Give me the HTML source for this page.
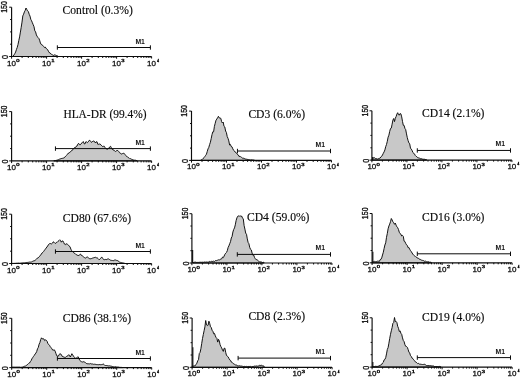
<!DOCTYPE html>
<html><head><meta charset="utf-8"><title>Figure</title>
<style>
html,body{margin:0;padding:0;background:#fff;}
body{width:520px;height:379px;overflow:hidden;}
svg{display:block;}
.t{font-family:"Liberation Serif",serif;font-size:11.6px;fill:#0a0a0a;stroke:#0a0a0a;stroke-width:0.15;}
.a{font-family:"Liberation Sans",sans-serif;font-size:8px;fill:#111;stroke:#111;stroke-width:0.3;}
.y{font-family:"Liberation Sans",sans-serif;font-size:8.4px;fill:#111;stroke:#111;stroke-width:0.35;text-anchor:middle;}
.s4{font-family:"Liberation Sans",sans-serif;font-size:3px;fill:#111;stroke:#111;stroke-width:0.5;}
.s{font-family:"Liberation Sans",sans-serif;font-size:4.2px;fill:#111;stroke:#111;stroke-width:0.35;}
.m{font-family:"Liberation Sans",sans-serif;font-size:6.8px;font-weight:bold;fill:#111;}
.ax{stroke:#0c0c0c;stroke-width:1.15;fill:none;}
.tk{stroke:#0a0a0a;stroke-width:1;fill:none;}
.h{fill:#c8c8c8;stroke:#0a0a0a;stroke-width:0.95;stroke-linejoin:round;}
.sp{stroke:#0a0a0a;stroke-width:1.1;fill:none;}
.mk{stroke:#0a0a0a;stroke-width:1.0;fill:none;}
</style></head><body>
<svg width="520" height="379" viewBox="0 0 520 379">
<rect width="520" height="379" fill="#fff"/>
<g>

<g>
<path class="h" d="M13.2,56.0 L14.0,54.9 L14.8,53.6 L15.6,52.1 L16.4,49.6 L17.2,47.5 L18.0,44.5 L18.8,40.5 L19.6,36.9 L20.4,32.1 L21.2,27.3 L22.0,22.1 L22.8,15.9 L23.6,14.2 L24.4,11.9 L25.2,10.4 L26.0,8.0 L26.8,9.5 L27.6,10.9 L28.4,11.7 L29.2,14.3 L30.0,16.1 L30.8,19.4 L31.6,20.8 L32.4,22.8 L33.2,24.7 L34.0,26.7 L34.8,30.8 L35.6,31.9 L36.4,34.9 L37.2,36.6 L38.0,37.4 L38.8,38.3 L39.6,40.2 L40.4,43.0 L41.2,44.4 L42.0,44.9 L42.8,45.4 L43.6,46.4 L44.4,47.5 L45.2,47.0 L46.0,48.1 L46.8,49.2 L47.6,49.6 L48.4,51.2 L49.2,52.6 L50.0,52.8 L50.8,53.9 L51.6,54.4 L52.4,54.8 L53.2,55.5 L54.0,55.2 L54.8,54.8 L55.6,55.2 L56.4,55.5 L57.2,55.8 L58.0,56.2 L58.0,56.5 L13.2,56.5 Z"/>
<path class="ax" d="M11.6,7.2 V56.5 H151.6"/>
<path class="tk" d="M9.2,56.5 H11.6"/>
<path class="tk" d="M10.1,44.2 H11.6"/>
<path class="tk" d="M10.1,31.9 H11.6"/>
<path class="tk" d="M10.1,19.5 H11.6"/>
<path class="tk" d="M9.2,7.2 H11.6"/>
<path class="tk" d="M11.6,56.5 v2.2 M22.1,56.5 v1.5 M28.3,56.5 v1.5 M32.7,56.5 v1.5 M36.1,56.5 v1.5 M38.8,56.5 v1.5 M41.2,56.5 v1.5 M43.2,56.5 v1.5 M45.0,56.5 v1.5 M46.6,56.5 v2.2 M57.1,56.5 v1.5 M63.3,56.5 v1.5 M67.7,56.5 v1.5 M71.1,56.5 v1.5 M73.8,56.5 v1.5 M76.2,56.5 v1.5 M78.2,56.5 v1.5 M80.0,56.5 v1.5 M81.6,56.5 v2.2 M92.1,56.5 v1.5 M98.3,56.5 v1.5 M102.7,56.5 v1.5 M106.1,56.5 v1.5 M108.8,56.5 v1.5 M111.2,56.5 v1.5 M113.2,56.5 v1.5 M115.0,56.5 v1.5 M116.6,56.5 v2.2 M127.1,56.5 v1.5 M133.3,56.5 v1.5 M137.7,56.5 v1.5 M141.1,56.5 v1.5 M143.8,56.5 v1.5 M146.2,56.5 v1.5 M148.2,56.5 v1.5 M150.0,56.5 v1.5 M151.6,56.5 v2.0"/>
<text class="a" x="7.1" y="65.5">10</text><text class="s" x="16.3" y="62.0" textLength="3.3" lengthAdjust="spacingAndGlyphs">0</text>
<text class="a" x="42.1" y="65.5">10</text><text class="s" x="51.3" y="62.0" textLength="3.3" lengthAdjust="spacingAndGlyphs">1</text>
<text class="a" x="77.1" y="65.5">10</text><text class="s" x="86.3" y="62.0" textLength="3.3" lengthAdjust="spacingAndGlyphs">2</text>
<text class="a" x="112.1" y="65.5">10</text><text class="s" x="121.3" y="62.0" textLength="3.3" lengthAdjust="spacingAndGlyphs">3</text>
<text class="a" x="147.1" y="65.5">10</text><text class="s4" x="157.2" y="61.8">4</text>
<text class="y" transform="translate(8.3,57.1) rotate(-90)" textLength="4.0" lengthAdjust="spacingAndGlyphs">0</text>
<text class="y" transform="translate(7.2,7.0) rotate(-90)" textLength="11.7" lengthAdjust="spacingAndGlyphs">150</text>
<path class="mk" d="M57.35,47.50 H150.40 M57.35,45.30 v4.4 M150.40,45.30 v4.4"/>
<text class="m" x="135.4" y="43.5">M1</text>
<text class="t" x="62.6" y="14.4">Control (0.3%)</text>
</g>
<g>
<path class="h" d="M53.8,160.8 L54.6,160.7 L55.4,160.6 L56.2,160.4 L57.0,160.2 L57.8,159.9 L58.6,159.6 L59.4,159.2 L60.2,158.9 L61.0,158.7 L61.8,158.4 L62.6,158.3 L63.4,158.1 L64.2,157.8 L65.0,156.9 L65.8,156.0 L66.6,155.3 L67.4,154.4 L68.2,153.2 L69.0,153.2 L69.8,152.2 L70.6,151.7 L71.4,150.7 L72.2,150.5 L73.0,149.1 L73.8,148.4 L74.6,147.5 L75.4,147.6 L76.2,146.3 L77.0,146.1 L77.8,144.2 L78.6,143.3 L79.4,144.6 L80.2,144.8 L81.0,144.0 L81.8,142.9 L82.6,142.1 L83.4,141.6 L84.2,143.8 L85.0,143.9 L85.8,141.8 L86.6,141.9 L87.4,142.6 L88.2,141.9 L89.0,140.5 L89.8,140.3 L90.6,141.2 L91.4,142.4 L92.2,141.8 L93.0,141.0 L93.8,141.1 L94.6,141.5 L95.4,143.0 L96.2,141.9 L97.0,141.7 L97.8,144.3 L98.6,144.3 L99.4,144.0 L100.2,144.1 L101.0,145.1 L101.8,145.7 L102.6,146.6 L103.4,146.3 L104.2,146.2 L105.0,147.5 L105.8,148.5 L106.6,148.9 L107.4,149.4 L108.2,148.5 L109.0,148.1 L109.8,146.8 L110.6,146.3 L111.4,147.9 L112.2,149.3 L113.0,149.6 L113.8,150.1 L114.6,151.0 L115.4,151.5 L116.2,150.9 L117.0,150.5 L117.8,150.5 L118.6,151.3 L119.4,152.6 L120.2,153.2 L121.0,153.5 L121.8,154.2 L122.6,153.5 L123.4,153.3 L124.2,153.4 L125.0,154.5 L125.8,155.6 L126.6,156.2 L127.4,157.0 L128.2,157.6 L129.0,157.8 L129.8,158.6 L130.6,158.7 L131.4,159.2 L132.2,159.5 L133.0,159.8 L133.8,160.1 L134.6,160.2 L135.4,160.2 L136.2,160.5 L137.0,160.5 L137.0,160.9 L53.8,160.9 Z"/>
<path class="ax" d="M11.6,111.6 V160.9 H151.6"/>
<path class="tk" d="M9.2,160.9 H11.6"/>
<path class="tk" d="M10.1,148.6 H11.6"/>
<path class="tk" d="M10.1,136.2 H11.6"/>
<path class="tk" d="M10.1,123.9 H11.6"/>
<path class="tk" d="M9.2,111.6 H11.6"/>
<path class="tk" d="M11.6,160.9 v2.2 M22.1,160.9 v1.5 M28.3,160.9 v1.5 M32.7,160.9 v1.5 M36.1,160.9 v1.5 M38.8,160.9 v1.5 M41.2,160.9 v1.5 M43.2,160.9 v1.5 M45.0,160.9 v1.5 M46.6,160.9 v2.2 M57.1,160.9 v1.5 M63.3,160.9 v1.5 M67.7,160.9 v1.5 M71.1,160.9 v1.5 M73.8,160.9 v1.5 M76.2,160.9 v1.5 M78.2,160.9 v1.5 M80.0,160.9 v1.5 M81.6,160.9 v2.2 M92.1,160.9 v1.5 M98.3,160.9 v1.5 M102.7,160.9 v1.5 M106.1,160.9 v1.5 M108.8,160.9 v1.5 M111.2,160.9 v1.5 M113.2,160.9 v1.5 M115.0,160.9 v1.5 M116.6,160.9 v2.2 M127.1,160.9 v1.5 M133.3,160.9 v1.5 M137.7,160.9 v1.5 M141.1,160.9 v1.5 M143.8,160.9 v1.5 M146.2,160.9 v1.5 M148.2,160.9 v1.5 M150.0,160.9 v1.5 M151.6,160.9 v2.0"/>
<text class="a" x="7.1" y="169.9">10</text><text class="s" x="16.3" y="166.4" textLength="3.3" lengthAdjust="spacingAndGlyphs">0</text>
<text class="a" x="42.1" y="169.9">10</text><text class="s" x="51.3" y="166.4" textLength="3.3" lengthAdjust="spacingAndGlyphs">1</text>
<text class="a" x="77.1" y="169.9">10</text><text class="s" x="86.3" y="166.4" textLength="3.3" lengthAdjust="spacingAndGlyphs">2</text>
<text class="a" x="112.1" y="169.9">10</text><text class="s" x="121.3" y="166.4" textLength="3.3" lengthAdjust="spacingAndGlyphs">3</text>
<text class="a" x="147.1" y="169.9">10</text><text class="s4" x="157.2" y="166.2">4</text>
<text class="y" transform="translate(8.3,161.5) rotate(-90)" textLength="4.0" lengthAdjust="spacingAndGlyphs">0</text>
<text class="y" transform="translate(7.2,111.4) rotate(-90)" textLength="11.7" lengthAdjust="spacingAndGlyphs">150</text>
<path class="mk" d="M55.45,148.60 H150.40 M55.45,146.40 v4.4 M150.40,146.40 v4.4"/>
<text class="m" x="135.4" y="144.6">M1</text>
<text class="t" x="63.4" y="118.3" textLength="83.1" lengthAdjust="spacingAndGlyphs">HLA-DR (99.4%)</text>
</g>
<g>
<path class="h" d="M11.7,263.4 L12.5,263.4 L13.3,263.4 L14.1,263.4 L14.9,263.3 L15.7,263.3 L16.5,263.2 L17.3,263.2 L18.1,263.1 L18.9,263.1 L19.7,263.2 L20.5,263.1 L21.3,263.0 L22.1,262.9 L22.9,262.9 L23.7,262.8 L24.5,262.8 L25.3,262.7 L26.1,262.5 L26.9,262.6 L27.7,262.4 L28.5,262.3 L29.3,262.1 L30.1,262.2 L30.9,262.0 L31.7,261.9 L32.5,261.4 L33.3,261.0 L34.1,260.8 L34.9,260.5 L35.7,259.8 L36.5,259.1 L37.3,258.2 L38.1,257.9 L38.9,256.9 L39.7,256.3 L40.5,255.2 L41.3,254.1 L42.1,252.9 L42.9,252.3 L43.7,251.4 L44.5,250.2 L45.3,249.2 L46.1,248.1 L46.9,247.0 L47.7,246.0 L48.5,244.5 L49.3,243.8 L50.1,243.6 L50.9,243.6 L51.7,243.9 L52.5,243.1 L53.3,241.8 L54.1,242.3 L54.9,243.2 L55.7,243.4 L56.5,242.3 L57.3,242.2 L58.1,241.3 L58.9,240.6 L59.7,239.8 L60.5,240.4 L61.3,242.2 L62.1,241.0 L62.9,240.9 L63.7,242.5 L64.5,244.1 L65.3,244.7 L66.1,243.6 L66.9,244.3 L67.7,244.4 L68.5,245.2 L69.3,246.1 L70.1,247.0 L70.9,249.2 L71.7,250.7 L72.5,251.6 L73.3,252.4 L74.1,253.0 L74.9,253.4 L75.7,254.3 L76.5,254.7 L77.3,254.9 L78.1,255.9 L78.9,255.1 L79.7,254.8 L80.5,254.0 L81.3,255.4 L82.1,255.6 L82.9,256.3 L83.7,257.0 L84.5,257.6 L85.3,258.1 L86.1,257.7 L86.9,257.0 L87.7,257.1 L88.5,257.9 L89.3,258.5 L90.1,258.9 L90.9,258.6 L91.7,258.5 L92.5,258.1 L93.3,257.9 L94.1,257.5 L94.9,257.5 L95.7,257.3 L96.5,257.8 L97.3,257.9 L98.1,258.6 L98.9,259.6 L99.7,259.4 L100.5,258.5 L101.3,257.4 L102.1,257.3 L102.9,258.6 L103.7,259.6 L104.5,259.7 L105.3,259.4 L106.1,259.8 L106.9,259.3 L107.7,259.0 L108.5,258.9 L109.3,259.4 L110.1,259.9 L110.9,260.4 L111.7,260.4 L112.5,260.5 L113.3,260.7 L114.1,260.2 L114.9,260.0 L115.7,260.0 L116.5,260.4 L117.3,260.5 L118.1,260.9 L118.9,261.6 L119.7,262.2 L120.5,262.4 L121.3,262.6 L122.1,262.7 L122.9,263.0 L123.7,263.0 L124.5,263.1 L124.5,263.5 L11.7,263.5 Z"/>
<path class="ax" d="M11.6,214.2 V263.5 H151.6"/>
<path class="tk" d="M9.2,263.5 H11.6"/>
<path class="tk" d="M10.1,251.2 H11.6"/>
<path class="tk" d="M10.1,238.8 H11.6"/>
<path class="tk" d="M10.1,226.5 H11.6"/>
<path class="tk" d="M9.2,214.2 H11.6"/>
<path class="tk" d="M11.6,263.5 v2.2 M22.1,263.5 v1.5 M28.3,263.5 v1.5 M32.7,263.5 v1.5 M36.1,263.5 v1.5 M38.8,263.5 v1.5 M41.2,263.5 v1.5 M43.2,263.5 v1.5 M45.0,263.5 v1.5 M46.6,263.5 v2.2 M57.1,263.5 v1.5 M63.3,263.5 v1.5 M67.7,263.5 v1.5 M71.1,263.5 v1.5 M73.8,263.5 v1.5 M76.2,263.5 v1.5 M78.2,263.5 v1.5 M80.0,263.5 v1.5 M81.6,263.5 v2.2 M92.1,263.5 v1.5 M98.3,263.5 v1.5 M102.7,263.5 v1.5 M106.1,263.5 v1.5 M108.8,263.5 v1.5 M111.2,263.5 v1.5 M113.2,263.5 v1.5 M115.0,263.5 v1.5 M116.6,263.5 v2.2 M127.1,263.5 v1.5 M133.3,263.5 v1.5 M137.7,263.5 v1.5 M141.1,263.5 v1.5 M143.8,263.5 v1.5 M146.2,263.5 v1.5 M148.2,263.5 v1.5 M150.0,263.5 v1.5 M151.6,263.5 v2.0"/>
<text class="a" x="7.1" y="272.5">10</text><text class="s" x="16.3" y="269.0" textLength="3.3" lengthAdjust="spacingAndGlyphs">0</text>
<text class="a" x="42.1" y="272.5">10</text><text class="s" x="51.3" y="269.0" textLength="3.3" lengthAdjust="spacingAndGlyphs">1</text>
<text class="a" x="77.1" y="272.5">10</text><text class="s" x="86.3" y="269.0" textLength="3.3" lengthAdjust="spacingAndGlyphs">2</text>
<text class="a" x="112.1" y="272.5">10</text><text class="s" x="121.3" y="269.0" textLength="3.3" lengthAdjust="spacingAndGlyphs">3</text>
<text class="a" x="147.1" y="272.5">10</text><text class="s4" x="157.2" y="268.8">4</text>
<text class="y" transform="translate(8.3,264.1) rotate(-90)" textLength="4.0" lengthAdjust="spacingAndGlyphs">0</text>
<text class="y" transform="translate(7.2,214.0) rotate(-90)" textLength="11.7" lengthAdjust="spacingAndGlyphs">150</text>
<path class="mk" d="M55.45,251.50 H150.40 M55.45,249.30 v4.4 M150.40,249.30 v4.4"/>
<text class="m" x="135.4" y="247.5">M1</text>
<text class="t" x="62.8" y="221.7">CD80 (67.6%)</text>
</g>
<g>
<path class="h" d="M11.9,367.1 L12.7,367.1 L13.5,367.1 L14.3,367.1 L15.1,367.2 L15.9,367.1 L16.7,367.1 L17.5,367.1 L18.3,367.1 L19.1,367.1 L19.9,367.1 L20.7,367.3 L21.5,367.2 L22.3,367.1 L23.1,366.9 L23.9,366.5 L24.7,366.2 L25.5,366.0 L26.3,365.5 L27.1,364.8 L27.9,364.2 L28.7,363.4 L29.5,363.0 L30.3,361.7 L31.1,360.7 L31.9,358.8 L32.7,357.6 L33.5,356.4 L34.3,355.4 L35.1,354.0 L35.9,353.1 L36.7,351.5 L37.5,348.8 L38.3,347.4 L39.1,344.2 L39.9,342.5 L40.7,339.6 L41.5,337.8 L42.3,339.0 L43.1,338.6 L43.9,339.0 L44.7,340.6 L45.5,339.9 L46.3,340.3 L47.1,341.3 L47.9,343.7 L48.7,344.4 L49.5,345.3 L50.3,346.8 L51.1,347.7 L51.9,348.8 L52.7,350.1 L53.5,350.1 L54.3,349.8 L55.1,351.1 L55.9,353.4 L56.7,355.7 L57.5,356.1 L58.3,356.2 L59.1,354.8 L59.9,353.6 L60.7,354.0 L61.5,355.0 L62.3,356.5 L63.1,356.6 L63.9,357.2 L64.7,357.3 L65.5,357.3 L66.3,356.6 L67.1,356.1 L67.9,355.8 L68.7,354.7 L69.5,355.3 L70.3,357.0 L71.1,355.4 L71.9,353.7 L72.7,354.8 L73.5,356.3 L74.3,357.2 L75.1,357.9 L75.9,358.4 L76.7,357.7 L77.5,357.1 L78.3,356.9 L79.1,359.0 L79.9,360.5 L80.7,361.2 L81.5,361.7 L82.3,362.0 L83.1,361.9 L83.9,361.6 L84.7,362.2 L85.5,362.6 L86.3,363.5 L87.1,363.7 L87.9,363.8 L88.7,363.8 L89.5,363.9 L90.3,363.5 L91.1,364.0 L91.9,363.9 L92.7,364.0 L93.5,364.3 L94.3,364.2 L95.1,364.3 L95.9,364.4 L96.7,364.6 L97.5,364.6 L98.3,364.7 L99.1,364.6 L99.9,364.5 L100.7,364.7 L101.5,364.6 L102.3,364.5 L103.1,363.8 L103.9,364.4 L104.7,365.4 L105.5,365.5 L106.3,365.5 L107.1,365.6 L107.9,365.8 L108.7,365.9 L109.5,365.8 L110.3,366.0 L111.1,366.2 L111.9,366.3 L112.7,366.6 L113.5,366.7 L114.3,366.9 L115.1,366.7 L115.9,366.8 L116.7,367.0 L117.5,367.0 L118.3,367.0 L119.1,367.3 L119.9,367.3 L120.7,367.4 L121.5,367.4 L122.3,367.6 L122.3,367.6 L11.9,367.6 Z"/>
<path class="ax" d="M11.7,318.3 V367.6 H151.7"/>
<path class="tk" d="M9.3,367.6 H11.7"/>
<path class="tk" d="M10.2,355.3 H11.7"/>
<path class="tk" d="M10.2,343.0 H11.7"/>
<path class="tk" d="M10.2,330.6 H11.7"/>
<path class="tk" d="M9.3,318.3 H11.7"/>
<path class="tk" d="M11.7,367.6 v2.2 M22.2,367.6 v1.5 M28.4,367.6 v1.5 M32.8,367.6 v1.5 M36.2,367.6 v1.5 M38.9,367.6 v1.5 M41.3,367.6 v1.5 M43.3,367.6 v1.5 M45.1,367.6 v1.5 M46.7,367.6 v2.2 M57.2,367.6 v1.5 M63.4,367.6 v1.5 M67.8,367.6 v1.5 M71.2,367.6 v1.5 M73.9,367.6 v1.5 M76.3,367.6 v1.5 M78.3,367.6 v1.5 M80.1,367.6 v1.5 M81.7,367.6 v2.2 M92.2,367.6 v1.5 M98.4,367.6 v1.5 M102.8,367.6 v1.5 M106.2,367.6 v1.5 M108.9,367.6 v1.5 M111.3,367.6 v1.5 M113.3,367.6 v1.5 M115.1,367.6 v1.5 M116.7,367.6 v2.2 M127.2,367.6 v1.5 M133.4,367.6 v1.5 M137.8,367.6 v1.5 M141.2,367.6 v1.5 M143.9,367.6 v1.5 M146.3,367.6 v1.5 M148.3,367.6 v1.5 M150.1,367.6 v1.5 M151.7,367.6 v2.0"/>
<text class="a" x="7.2" y="376.6">10</text><text class="s" x="16.4" y="373.1" textLength="3.3" lengthAdjust="spacingAndGlyphs">0</text>
<text class="a" x="42.2" y="376.6">10</text><text class="s" x="51.4" y="373.1" textLength="3.3" lengthAdjust="spacingAndGlyphs">1</text>
<text class="a" x="77.2" y="376.6">10</text><text class="s" x="86.4" y="373.1" textLength="3.3" lengthAdjust="spacingAndGlyphs">2</text>
<text class="a" x="112.2" y="376.6">10</text><text class="s" x="121.4" y="373.1" textLength="3.3" lengthAdjust="spacingAndGlyphs">3</text>
<text class="a" x="147.2" y="376.6">10</text><text class="s4" x="157.3" y="372.9">4</text>
<text class="y" transform="translate(8.4,368.2) rotate(-90)" textLength="4.0" lengthAdjust="spacingAndGlyphs">0</text>
<text class="y" transform="translate(7.3,318.1) rotate(-90)" textLength="11.7" lengthAdjust="spacingAndGlyphs">150</text>
<path class="mk" d="M57.40,358.50 H150.40 M57.40,356.30 v4.4 M150.40,356.30 v4.4"/>
<text class="m" x="135.4" y="354.5">M1</text>
<text class="t" x="62.8" y="322.3">CD86 (38.1%)</text>
</g>
<g>
<path class="h" d="M200.8,160.0 L201.6,159.7 L202.4,159.3 L203.2,158.4 L204.0,157.7 L204.8,156.6 L205.6,155.4 L206.4,154.3 L207.2,151.7 L208.0,148.9 L208.8,147.4 L209.6,144.6 L210.4,142.2 L211.2,138.6 L212.0,134.6 L212.8,131.8 L213.6,131.8 L214.4,126.4 L215.2,123.3 L216.0,120.2 L216.8,119.1 L217.6,117.7 L218.4,116.3 L219.2,117.9 L220.0,118.0 L220.8,118.3 L221.6,121.6 L222.4,123.0 L223.2,122.1 L224.0,126.3 L224.8,127.0 L225.6,131.0 L226.4,132.5 L227.2,136.5 L228.0,138.3 L228.8,140.9 L229.6,145.0 L230.4,144.4 L231.2,146.5 L232.0,146.8 L232.8,148.8 L233.6,150.3 L234.4,150.9 L235.2,152.1 L236.0,152.9 L236.8,153.2 L237.6,154.7 L238.4,155.0 L239.2,156.6 L240.0,156.2 L240.8,157.1 L241.6,157.4 L242.4,158.1 L243.2,158.0 L244.0,158.7 L244.8,158.6 L245.6,159.1 L246.4,159.2 L247.2,159.4 L248.0,159.4 L248.8,159.8 L249.6,159.8 L250.4,160.0 L251.2,159.8 L252.0,160.0 L252.8,160.0 L253.6,160.1 L254.4,160.1 L254.4,160.4 L200.8,160.4 Z"/>
<path class="ax" d="M191.5,111.1 V160.4 H331.5"/>
<path class="tk" d="M189.1,160.4 H191.5"/>
<path class="tk" d="M190.0,148.1 H191.5"/>
<path class="tk" d="M190.0,135.8 H191.5"/>
<path class="tk" d="M190.0,123.5 H191.5"/>
<path class="tk" d="M189.1,111.1 H191.5"/>
<path class="tk" d="M191.5,160.4 v2.2 M202.0,160.4 v1.5 M208.2,160.4 v1.5 M212.6,160.4 v1.5 M216.0,160.4 v1.5 M218.7,160.4 v1.5 M221.1,160.4 v1.5 M223.1,160.4 v1.5 M224.9,160.4 v1.5 M226.5,160.4 v2.2 M237.0,160.4 v1.5 M243.2,160.4 v1.5 M247.6,160.4 v1.5 M251.0,160.4 v1.5 M253.7,160.4 v1.5 M256.1,160.4 v1.5 M258.1,160.4 v1.5 M259.9,160.4 v1.5 M261.5,160.4 v2.2 M272.0,160.4 v1.5 M278.2,160.4 v1.5 M282.6,160.4 v1.5 M286.0,160.4 v1.5 M288.7,160.4 v1.5 M291.1,160.4 v1.5 M293.1,160.4 v1.5 M294.9,160.4 v1.5 M296.5,160.4 v2.2 M307.0,160.4 v1.5 M313.2,160.4 v1.5 M317.6,160.4 v1.5 M321.0,160.4 v1.5 M323.7,160.4 v1.5 M326.1,160.4 v1.5 M328.1,160.4 v1.5 M329.9,160.4 v1.5 M331.5,160.4 v2.0"/>
<text class="a" x="187.0" y="169.4">10</text><text class="s" x="196.2" y="165.9" textLength="3.3" lengthAdjust="spacingAndGlyphs">0</text>
<text class="a" x="222.0" y="169.4">10</text><text class="s" x="231.2" y="165.9" textLength="3.3" lengthAdjust="spacingAndGlyphs">1</text>
<text class="a" x="257.0" y="169.4">10</text><text class="s" x="266.2" y="165.9" textLength="3.3" lengthAdjust="spacingAndGlyphs">2</text>
<text class="a" x="292.0" y="169.4">10</text><text class="s" x="301.2" y="165.9" textLength="3.3" lengthAdjust="spacingAndGlyphs">3</text>
<text class="a" x="327.0" y="169.4">10</text><text class="s4" x="337.1" y="165.8">4</text>
<text class="y" transform="translate(188.2,161.0) rotate(-90)" textLength="4.0" lengthAdjust="spacingAndGlyphs">0</text>
<text class="y" transform="translate(187.1,110.9) rotate(-90)" textLength="11.7" lengthAdjust="spacingAndGlyphs">150</text>
<path class="mk" d="M237.45,151.00 H330.50 M237.45,148.80 v4.4 M330.50,148.80 v4.4"/>
<text class="m" x="315.5" y="147.0">M1</text>
<text class="t" x="248.4" y="117.7">CD3 (6.0%)</text>
</g>
<g>
<path class="h" d="M372.1,159.5 L372.9,158.7 L373.7,157.5 L374.5,157.8 L375.3,158.5 L376.1,158.6 L376.9,158.8 L377.7,159.1 L378.5,158.6 L379.3,158.4 L380.1,158.1 L380.9,157.0 L381.7,156.2 L382.5,155.0 L383.3,153.3 L384.1,151.9 L384.9,149.9 L385.7,146.7 L386.5,144.5 L387.3,141.3 L388.1,137.2 L388.9,135.2 L389.7,131.4 L390.5,128.5 L391.3,128.1 L392.1,124.2 L392.9,120.1 L393.7,118.5 L394.5,121.6 L395.3,118.2 L396.1,116.6 L396.9,114.1 L397.7,112.7 L398.5,114.7 L399.3,115.1 L400.1,113.5 L400.9,113.9 L401.7,116.9 L402.5,121.4 L403.3,125.3 L404.1,125.4 L404.9,128.4 L405.7,129.6 L406.5,133.9 L407.3,137.7 L408.1,140.6 L408.9,142.9 L409.7,143.8 L410.5,148.2 L411.3,149.1 L412.1,150.5 L412.9,152.5 L413.7,153.2 L414.5,154.0 L415.3,155.5 L416.1,156.3 L416.9,156.7 L417.7,157.7 L418.5,157.9 L419.3,157.8 L420.1,158.8 L420.9,158.8 L421.7,158.7 L422.5,159.1 L423.3,159.2 L424.1,159.4 L424.9,159.2 L425.7,159.6 L426.5,159.7 L426.5,160.1 L372.1,160.1 Z"/>
<path class="sp" d="M372.65,160.1 v-3"/>
<path class="ax" d="M371.9,110.8 V160.1 H511.9"/>
<path class="tk" d="M369.5,160.1 H371.9"/>
<path class="tk" d="M370.4,147.8 H371.9"/>
<path class="tk" d="M370.4,135.4 H371.9"/>
<path class="tk" d="M370.4,123.1 H371.9"/>
<path class="tk" d="M369.5,110.8 H371.9"/>
<path class="tk" d="M371.9,160.1 v2.2 M382.4,160.1 v1.5 M388.6,160.1 v1.5 M393.0,160.1 v1.5 M396.4,160.1 v1.5 M399.1,160.1 v1.5 M401.5,160.1 v1.5 M403.5,160.1 v1.5 M405.3,160.1 v1.5 M406.9,160.1 v2.2 M417.4,160.1 v1.5 M423.6,160.1 v1.5 M428.0,160.1 v1.5 M431.4,160.1 v1.5 M434.1,160.1 v1.5 M436.5,160.1 v1.5 M438.5,160.1 v1.5 M440.3,160.1 v1.5 M441.9,160.1 v2.2 M452.4,160.1 v1.5 M458.6,160.1 v1.5 M463.0,160.1 v1.5 M466.4,160.1 v1.5 M469.1,160.1 v1.5 M471.5,160.1 v1.5 M473.5,160.1 v1.5 M475.3,160.1 v1.5 M476.9,160.1 v2.2 M487.4,160.1 v1.5 M493.6,160.1 v1.5 M498.0,160.1 v1.5 M501.4,160.1 v1.5 M504.1,160.1 v1.5 M506.5,160.1 v1.5 M508.5,160.1 v1.5 M510.3,160.1 v1.5 M511.9,160.1 v2.0"/>
<text class="a" x="367.4" y="169.1">10</text><text class="s" x="376.6" y="165.6" textLength="3.3" lengthAdjust="spacingAndGlyphs">0</text>
<text class="a" x="402.4" y="169.1">10</text><text class="s" x="411.6" y="165.6" textLength="3.3" lengthAdjust="spacingAndGlyphs">1</text>
<text class="a" x="437.4" y="169.1">10</text><text class="s" x="446.6" y="165.6" textLength="3.3" lengthAdjust="spacingAndGlyphs">2</text>
<text class="a" x="472.4" y="169.1">10</text><text class="s" x="481.6" y="165.6" textLength="3.3" lengthAdjust="spacingAndGlyphs">3</text>
<text class="a" x="507.4" y="169.1">10</text><text class="s4" x="517.5" y="165.4">4</text>
<text class="y" transform="translate(368.6,160.7) rotate(-90)" textLength="4.0" lengthAdjust="spacingAndGlyphs">0</text>
<text class="y" transform="translate(367.5,110.6) rotate(-90)" textLength="11.7" lengthAdjust="spacingAndGlyphs">150</text>
<path class="mk" d="M417.30,150.45 H510.50 M417.30,148.25 v4.4 M510.50,148.25 v4.4"/>
<text class="m" x="495.5" y="146.4">M1</text>
<text class="t" x="422.0" y="117.4">CD14 (2.1%)</text>
</g>
<g>
<path class="h" d="M192.9,262.3 L193.7,262.6 L194.5,262.2 L195.3,262.1 L196.1,262.4 L196.9,262.4 L197.7,262.4 L198.5,262.4 L199.3,262.3 L200.1,262.3 L200.9,262.2 L201.7,262.3 L202.5,262.2 L203.3,262.3 L204.1,262.2 L204.9,261.9 L205.7,262.2 L206.5,262.0 L207.3,262.1 L208.1,262.2 L208.9,261.9 L209.7,261.4 L210.5,261.8 L211.3,261.3 L212.1,261.8 L212.9,261.2 L213.7,261.2 L214.5,261.5 L215.3,260.6 L216.1,260.9 L216.9,260.4 L217.7,260.2 L218.5,259.8 L219.3,260.0 L220.1,259.3 L220.9,259.2 L221.7,258.8 L222.5,257.1 L223.3,257.6 L224.1,256.1 L224.9,254.3 L225.7,253.2 L226.5,252.4 L227.3,250.7 L228.1,247.5 L228.9,245.9 L229.7,243.7 L230.5,241.7 L231.3,238.0 L232.1,236.4 L232.9,232.0 L233.7,229.5 L234.5,227.9 L235.3,224.8 L236.1,220.6 L236.9,217.9 L237.7,216.3 L238.5,215.9 L239.3,216.4 L240.1,215.6 L240.9,216.6 L241.7,216.1 L242.5,218.1 L243.3,218.9 L244.1,225.5 L244.9,229.1 L245.7,233.1 L246.5,234.3 L247.3,238.9 L248.1,242.4 L248.9,243.7 L249.7,247.3 L250.5,249.3 L251.3,249.9 L252.1,253.1 L252.9,255.2 L253.7,255.1 L254.5,257.4 L255.3,258.7 L256.1,259.7 L256.9,259.6 L257.7,260.3 L258.5,261.1 L259.3,261.8 L260.1,261.8 L260.9,262.0 L261.7,262.1 L262.5,262.5 L263.3,262.3 L264.1,262.6 L264.1,263.0 L192.9,263.0 Z"/>
<path class="sp" d="M192.65,263.0 v-13"/>
<path class="ax" d="M191.9,213.7 V263.0 H331.9"/>
<path class="tk" d="M189.5,263.0 H191.9"/>
<path class="tk" d="M190.4,250.7 H191.9"/>
<path class="tk" d="M190.4,238.3 H191.9"/>
<path class="tk" d="M190.4,226.0 H191.9"/>
<path class="tk" d="M189.5,213.7 H191.9"/>
<path class="tk" d="M191.9,263.0 v2.2 M202.4,263.0 v1.5 M208.6,263.0 v1.5 M213.0,263.0 v1.5 M216.4,263.0 v1.5 M219.1,263.0 v1.5 M221.5,263.0 v1.5 M223.5,263.0 v1.5 M225.3,263.0 v1.5 M226.9,263.0 v2.2 M237.4,263.0 v1.5 M243.6,263.0 v1.5 M248.0,263.0 v1.5 M251.4,263.0 v1.5 M254.1,263.0 v1.5 M256.5,263.0 v1.5 M258.5,263.0 v1.5 M260.3,263.0 v1.5 M261.9,263.0 v2.2 M272.4,263.0 v1.5 M278.6,263.0 v1.5 M283.0,263.0 v1.5 M286.4,263.0 v1.5 M289.1,263.0 v1.5 M291.5,263.0 v1.5 M293.5,263.0 v1.5 M295.3,263.0 v1.5 M296.9,263.0 v2.2 M307.4,263.0 v1.5 M313.6,263.0 v1.5 M318.0,263.0 v1.5 M321.4,263.0 v1.5 M324.1,263.0 v1.5 M326.5,263.0 v1.5 M328.5,263.0 v1.5 M330.3,263.0 v1.5 M331.9,263.0 v2.0"/>
<text class="a" x="187.4" y="272.0">10</text><text class="s" x="196.6" y="268.5" textLength="3.3" lengthAdjust="spacingAndGlyphs">0</text>
<text class="a" x="222.4" y="272.0">10</text><text class="s" x="231.6" y="268.5" textLength="3.3" lengthAdjust="spacingAndGlyphs">1</text>
<text class="a" x="257.4" y="272.0">10</text><text class="s" x="266.6" y="268.5" textLength="3.3" lengthAdjust="spacingAndGlyphs">2</text>
<text class="a" x="292.4" y="272.0">10</text><text class="s" x="301.6" y="268.5" textLength="3.3" lengthAdjust="spacingAndGlyphs">3</text>
<text class="a" x="327.4" y="272.0">10</text><text class="s4" x="337.5" y="268.3">4</text>
<text class="y" transform="translate(188.6,263.6) rotate(-90)" textLength="4.0" lengthAdjust="spacingAndGlyphs">0</text>
<text class="y" transform="translate(187.5,213.5) rotate(-90)" textLength="11.7" lengthAdjust="spacingAndGlyphs">150</text>
<path class="mk" d="M237.30,254.40 H330.50 M237.30,252.20 v4.4 M330.50,252.20 v4.4"/>
<text class="m" x="315.5" y="250.4">M1</text>
<text class="t" x="247.0" y="221.2">CD4 (59.0%)</text>
</g>
<g>
<path class="h" d="M372.1,262.2 L372.9,262.1 L373.7,261.6 L374.5,261.4 L375.3,261.7 L376.1,261.7 L376.9,261.5 L377.7,261.1 L378.5,261.2 L379.3,261.5 L380.1,259.7 L380.9,259.4 L381.7,257.9 L382.5,255.0 L383.3,252.3 L384.1,248.5 L384.9,245.0 L385.7,242.8 L386.5,237.3 L387.3,233.5 L388.1,228.8 L388.9,226.0 L389.7,224.1 L390.5,221.7 L391.3,218.5 L392.1,219.9 L392.9,221.8 L393.7,222.7 L394.5,224.3 L395.3,223.1 L396.1,225.2 L396.9,226.8 L397.7,227.7 L398.5,229.6 L399.3,232.3 L400.1,233.6 L400.9,234.2 L401.7,236.0 L402.5,235.4 L403.3,236.4 L404.1,241.2 L404.9,241.5 L405.7,243.4 L406.5,244.8 L407.3,245.4 L408.1,247.7 L408.9,247.5 L409.7,249.2 L410.5,250.6 L411.3,251.6 L412.1,253.0 L412.9,254.2 L413.7,255.2 L414.5,255.8 L415.3,256.4 L416.1,257.2 L416.9,257.2 L417.7,258.4 L418.5,258.4 L419.3,259.1 L420.1,259.2 L420.9,260.0 L421.7,260.2 L422.5,260.4 L423.3,260.5 L424.1,261.0 L424.9,261.5 L425.7,261.1 L426.5,261.7 L427.3,261.8 L428.1,261.8 L428.9,261.8 L429.7,262.3 L430.5,262.2 L431.3,262.4 L431.3,262.8 L372.1,262.8 Z"/>
<path class="sp" d="M372.85,262.8 v-11"/>
<path class="ax" d="M372.1,213.5 V262.8 H512.1"/>
<path class="tk" d="M369.7,262.8 H372.1"/>
<path class="tk" d="M370.6,250.5 H372.1"/>
<path class="tk" d="M370.6,238.2 H372.1"/>
<path class="tk" d="M370.6,225.8 H372.1"/>
<path class="tk" d="M369.7,213.5 H372.1"/>
<path class="tk" d="M372.1,262.8 v2.2 M382.6,262.8 v1.5 M388.8,262.8 v1.5 M393.2,262.8 v1.5 M396.6,262.8 v1.5 M399.3,262.8 v1.5 M401.7,262.8 v1.5 M403.7,262.8 v1.5 M405.5,262.8 v1.5 M407.1,262.8 v2.2 M417.6,262.8 v1.5 M423.8,262.8 v1.5 M428.2,262.8 v1.5 M431.6,262.8 v1.5 M434.3,262.8 v1.5 M436.7,262.8 v1.5 M438.7,262.8 v1.5 M440.5,262.8 v1.5 M442.1,262.8 v2.2 M452.6,262.8 v1.5 M458.8,262.8 v1.5 M463.2,262.8 v1.5 M466.6,262.8 v1.5 M469.3,262.8 v1.5 M471.7,262.8 v1.5 M473.7,262.8 v1.5 M475.5,262.8 v1.5 M477.1,262.8 v2.2 M487.6,262.8 v1.5 M493.8,262.8 v1.5 M498.2,262.8 v1.5 M501.6,262.8 v1.5 M504.3,262.8 v1.5 M506.7,262.8 v1.5 M508.7,262.8 v1.5 M510.5,262.8 v1.5 M512.1,262.8 v2.0"/>
<text class="a" x="367.6" y="271.8">10</text><text class="s" x="376.8" y="268.3" textLength="3.3" lengthAdjust="spacingAndGlyphs">0</text>
<text class="a" x="402.6" y="271.8">10</text><text class="s" x="411.8" y="268.3" textLength="3.3" lengthAdjust="spacingAndGlyphs">1</text>
<text class="a" x="437.6" y="271.8">10</text><text class="s" x="446.8" y="268.3" textLength="3.3" lengthAdjust="spacingAndGlyphs">2</text>
<text class="a" x="472.6" y="271.8">10</text><text class="s" x="481.8" y="268.3" textLength="3.3" lengthAdjust="spacingAndGlyphs">3</text>
<text class="a" x="507.6" y="271.8">10</text><text class="s4" x="517.7" y="268.1">4</text>
<text class="y" transform="translate(368.8,263.4) rotate(-90)" textLength="4.0" lengthAdjust="spacingAndGlyphs">0</text>
<text class="y" transform="translate(367.7,213.3) rotate(-90)" textLength="11.7" lengthAdjust="spacingAndGlyphs">150</text>
<path class="mk" d="M417.30,253.80 H510.50 M417.30,251.60 v4.4 M510.50,251.60 v4.4"/>
<text class="m" x="495.5" y="249.8">M1</text>
<text class="t" x="422.0" y="221.2">CD16 (3.0%)</text>
</g>
<g>
<path class="h" d="M192.1,366.3 L192.9,366.1 L193.7,366.0 L194.5,365.8 L195.3,365.7 L196.1,364.3 L196.9,363.2 L197.7,360.8 L198.5,359.7 L199.3,353.5 L200.1,352.4 L200.9,348.7 L201.7,343.6 L202.5,338.5 L203.3,334.5 L204.1,330.7 L204.9,326.9 L205.7,320.5 L206.5,324.9 L207.3,325.5 L208.1,325.2 L208.9,321.2 L209.7,323.4 L210.5,326.8 L211.3,327.6 L212.1,330.3 L212.9,331.3 L213.7,333.8 L214.5,333.4 L215.3,335.9 L216.1,337.5 L216.9,338.4 L217.7,342.1 L218.5,339.3 L219.3,341.0 L220.1,344.7 L220.9,346.6 L221.7,347.9 L222.5,350.2 L223.3,351.4 L224.1,348.3 L224.9,348.2 L225.7,352.3 L226.5,355.5 L227.3,356.1 L228.1,356.8 L228.9,358.4 L229.7,359.9 L230.5,360.3 L231.3,362.0 L232.1,362.3 L232.9,363.4 L233.7,363.8 L234.5,364.3 L235.3,364.9 L236.1,364.9 L236.9,365.3 L237.7,365.8 L238.5,365.9 L239.3,365.7 L240.1,366.1 L240.9,366.0 L241.7,366.1 L242.5,366.3 L243.3,366.6 L244.1,366.3 L244.9,366.5 L245.7,366.6 L246.5,366.4 L247.3,366.6 L248.1,366.7 L248.9,366.3 L249.7,366.5 L250.5,366.4 L251.3,366.9 L252.1,366.6 L252.9,366.6 L253.7,366.4 L254.5,366.1 L255.3,366.2 L256.1,366.1 L256.9,365.9 L257.7,366.2 L258.5,365.9 L259.3,365.4 L260.1,365.4 L260.9,365.5 L261.7,365.3 L262.5,365.8 L263.3,365.9 L264.1,366.2 L264.1,367.3 L192.1,367.3 Z"/>
<path class="sp" d="M192.85,367.3 v-20"/>
<path class="ax" d="M192.1,318.0 V367.3 H332.1"/>
<path class="tk" d="M189.7,367.3 H192.1"/>
<path class="tk" d="M190.6,355.0 H192.1"/>
<path class="tk" d="M190.6,342.7 H192.1"/>
<path class="tk" d="M190.6,330.3 H192.1"/>
<path class="tk" d="M189.7,318.0 H192.1"/>
<path class="tk" d="M192.1,367.3 v2.2 M202.6,367.3 v1.5 M208.8,367.3 v1.5 M213.2,367.3 v1.5 M216.6,367.3 v1.5 M219.3,367.3 v1.5 M221.7,367.3 v1.5 M223.7,367.3 v1.5 M225.5,367.3 v1.5 M227.1,367.3 v2.2 M237.6,367.3 v1.5 M243.8,367.3 v1.5 M248.2,367.3 v1.5 M251.6,367.3 v1.5 M254.3,367.3 v1.5 M256.7,367.3 v1.5 M258.7,367.3 v1.5 M260.5,367.3 v1.5 M262.1,367.3 v2.2 M272.6,367.3 v1.5 M278.8,367.3 v1.5 M283.2,367.3 v1.5 M286.6,367.3 v1.5 M289.3,367.3 v1.5 M291.7,367.3 v1.5 M293.7,367.3 v1.5 M295.5,367.3 v1.5 M297.1,367.3 v2.2 M307.6,367.3 v1.5 M313.8,367.3 v1.5 M318.2,367.3 v1.5 M321.6,367.3 v1.5 M324.3,367.3 v1.5 M326.7,367.3 v1.5 M328.7,367.3 v1.5 M330.5,367.3 v1.5 M332.1,367.3 v2.0"/>
<text class="a" x="187.6" y="376.3">10</text><text class="s" x="196.8" y="372.8" textLength="3.3" lengthAdjust="spacingAndGlyphs">0</text>
<text class="a" x="222.6" y="376.3">10</text><text class="s" x="231.8" y="372.8" textLength="3.3" lengthAdjust="spacingAndGlyphs">1</text>
<text class="a" x="257.6" y="376.3">10</text><text class="s" x="266.8" y="372.8" textLength="3.3" lengthAdjust="spacingAndGlyphs">2</text>
<text class="a" x="292.6" y="376.3">10</text><text class="s" x="301.8" y="372.8" textLength="3.3" lengthAdjust="spacingAndGlyphs">3</text>
<text class="a" x="327.6" y="376.3">10</text><text class="s4" x="337.7" y="372.6">4</text>
<text class="y" transform="translate(188.8,367.9) rotate(-90)" textLength="4.0" lengthAdjust="spacingAndGlyphs">0</text>
<text class="y" transform="translate(187.7,317.8) rotate(-90)" textLength="11.7" lengthAdjust="spacingAndGlyphs">150</text>
<path class="mk" d="M238.10,358.10 H330.50 M238.10,355.90 v4.4 M330.50,355.90 v4.4"/>
<text class="m" x="315.5" y="354.1">M1</text>
<text class="t" x="248.4" y="319.8">CD8 (2.3%)</text>
</g>
<g>
<path class="h" d="M372.1,366.6 L372.9,366.7 L373.7,366.5 L374.5,366.6 L375.3,366.3 L376.1,366.5 L376.9,366.3 L377.7,366.4 L378.5,366.1 L379.3,365.6 L380.1,365.2 L380.9,365.1 L381.7,364.5 L382.5,363.0 L383.3,362.3 L384.1,359.9 L384.9,359.4 L385.7,357.7 L386.5,353.9 L387.3,349.5 L388.1,347.6 L388.9,343.2 L389.7,338.6 L390.5,334.3 L391.3,330.8 L392.1,327.6 L392.9,323.3 L393.7,322.5 L394.5,317.5 L395.3,321.6 L396.1,321.4 L396.9,322.6 L397.7,326.3 L398.5,328.3 L399.3,331.5 L400.1,330.8 L400.9,333.3 L401.7,334.3 L402.5,337.9 L403.3,340.5 L404.1,341.6 L404.9,344.6 L405.7,346.3 L406.5,346.5 L407.3,347.3 L408.1,349.4 L408.9,352.1 L409.7,352.9 L410.5,355.7 L411.3,356.4 L412.1,358.2 L412.9,358.6 L413.7,359.8 L414.5,360.7 L415.3,361.8 L416.1,362.2 L416.9,362.8 L417.7,363.6 L418.5,363.3 L419.3,364.2 L420.1,364.1 L420.9,364.3 L421.7,364.4 L422.5,364.5 L423.3,364.5 L424.1,364.1 L424.9,364.5 L425.7,364.9 L426.5,365.5 L427.3,365.5 L428.1,365.5 L428.9,365.5 L429.7,365.7 L430.5,365.6 L431.3,365.8 L432.1,365.9 L432.9,366.0 L433.7,366.0 L434.5,366.5 L435.3,366.5 L436.1,366.5 L436.9,366.5 L437.7,366.6 L438.5,366.7 L439.3,366.4 L440.1,366.7 L440.9,366.8 L440.9,367.1 L372.1,367.1 Z"/>
<path class="sp" d="M372.85,367.1 v-5"/>
<path class="ax" d="M372.1,317.8 V367.1 H512.1"/>
<path class="tk" d="M369.7,367.1 H372.1"/>
<path class="tk" d="M370.6,354.7 H372.1"/>
<path class="tk" d="M370.6,342.4 H372.1"/>
<path class="tk" d="M370.6,330.1 H372.1"/>
<path class="tk" d="M369.7,317.8 H372.1"/>
<path class="tk" d="M372.1,367.1 v2.2 M382.6,367.1 v1.5 M388.8,367.1 v1.5 M393.2,367.1 v1.5 M396.6,367.1 v1.5 M399.3,367.1 v1.5 M401.7,367.1 v1.5 M403.7,367.1 v1.5 M405.5,367.1 v1.5 M407.1,367.1 v2.2 M417.6,367.1 v1.5 M423.8,367.1 v1.5 M428.2,367.1 v1.5 M431.6,367.1 v1.5 M434.3,367.1 v1.5 M436.7,367.1 v1.5 M438.7,367.1 v1.5 M440.5,367.1 v1.5 M442.1,367.1 v2.2 M452.6,367.1 v1.5 M458.8,367.1 v1.5 M463.2,367.1 v1.5 M466.6,367.1 v1.5 M469.3,367.1 v1.5 M471.7,367.1 v1.5 M473.7,367.1 v1.5 M475.5,367.1 v1.5 M477.1,367.1 v2.2 M487.6,367.1 v1.5 M493.8,367.1 v1.5 M498.2,367.1 v1.5 M501.6,367.1 v1.5 M504.3,367.1 v1.5 M506.7,367.1 v1.5 M508.7,367.1 v1.5 M510.5,367.1 v1.5 M512.1,367.1 v2.0"/>
<text class="a" x="367.6" y="376.1">10</text><text class="s" x="376.8" y="372.6" textLength="3.3" lengthAdjust="spacingAndGlyphs">0</text>
<text class="a" x="402.6" y="376.1">10</text><text class="s" x="411.8" y="372.6" textLength="3.3" lengthAdjust="spacingAndGlyphs">1</text>
<text class="a" x="437.6" y="376.1">10</text><text class="s" x="446.8" y="372.6" textLength="3.3" lengthAdjust="spacingAndGlyphs">2</text>
<text class="a" x="472.6" y="376.1">10</text><text class="s" x="481.8" y="372.6" textLength="3.3" lengthAdjust="spacingAndGlyphs">3</text>
<text class="a" x="507.6" y="376.1">10</text><text class="s4" x="517.7" y="372.4">4</text>
<text class="y" transform="translate(368.8,367.7) rotate(-90)" textLength="4.0" lengthAdjust="spacingAndGlyphs">0</text>
<text class="y" transform="translate(367.7,317.6) rotate(-90)" textLength="11.7" lengthAdjust="spacingAndGlyphs">150</text>
<path class="mk" d="M417.30,357.60 H510.50 M417.30,355.40 v4.4 M510.50,355.40 v4.4"/>
<text class="m" x="495.5" y="353.6">M1</text>
<text class="t" x="422.0" y="321.2">CD19 (4.0%)</text>
</g>
</g></svg></body></html>
